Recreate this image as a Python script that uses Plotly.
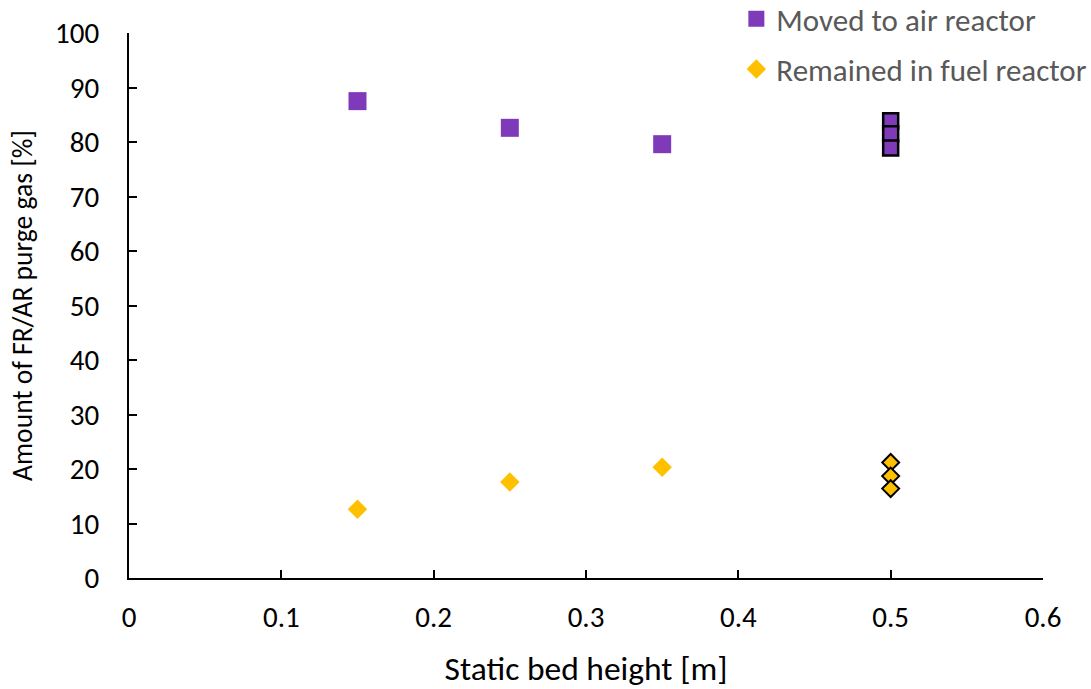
import plotly.graph_objects as go

x_main = [0.15, 0.25, 0.35]
air_main = [87.5, 82.6, 79.6]
fuel_main = [12.6, 17.6, 20.3]
x_rep = [0.5, 0.5, 0.5]
air_rep = [83.9, 81.5, 78.9]
fuel_rep = [21.2, 18.7, 16.4]

purple = "#7F3AB9"
gold = "#FFC000"
font_family = "Carlito, Calibri, 'Open Sans', 'Liberation Sans', sans-serif"

fig = go.Figure()
fig.add_trace(go.Scatter(x=x_main, y=air_main, mode="markers", name="Moved to air reactor",
                         legendgroup="a",
                         marker=dict(symbol="square", size=18, color=purple, line=dict(width=0))))
fig.add_trace(go.Scatter(x=x_main, y=fuel_main, mode="markers", name="Remained in fuel reactor",
                         legendgroup="b",
                         marker=dict(symbol="diamond", size=15, color=gold, line=dict(width=0))))
fig.add_trace(go.Scatter(x=x_rep, y=air_rep, mode="markers", showlegend=False, legendgroup="a",
                         marker=dict(symbol="square", size=15, color=purple, line=dict(width=2.5, color="black"))))
fig.add_trace(go.Scatter(x=x_rep, y=fuel_rep, mode="markers", showlegend=False, legendgroup="b",
                         marker=dict(symbol="diamond", size=13, color=gold, line=dict(width=2, color="black"))))

fig.update_layout(
    width=1091, height=689,
    margin=dict(l=129, r=48, t=33, b=111, autoexpand=False),
    paper_bgcolor="white", plot_bgcolor="white",
    font=dict(family=font_family, size=29, color="black"),
    legend=dict(x=1.054, y=1.075, xanchor="right", yanchor="top",
                font=dict(size=31, color="#595959"), bgcolor="rgba(0,0,0,0)",
                itemsizing="trace", traceorder="grouped", tracegroupgap=7, itemwidth=30),
    xaxis=dict(range=[0, 0.6], tickvals=[0, 0.1, 0.2, 0.3, 0.4, 0.5, 0.6],
               ticktext=["0", "0.1", "0.2", "0.3", "0.4", "0.5", "0.6"],
               showgrid=False, zeroline=False, showline=True, linecolor="black", linewidth=2,
               ticks="inside", ticklen=8, tickwidth=2, tickcolor="black",
               tickfont=dict(size=29), ticklabelstandoff=12,
               title=dict(text="Static bed height [m]", font=dict(size=33.5), standoff=24)),
    yaxis=dict(range=[0, 100], tickvals=list(range(0, 101, 10)),
               showgrid=False, zeroline=False, showline=True, linecolor="black", linewidth=2,
               ticks="inside", ticklen=8, tickwidth=2, tickcolor="black",
               tickfont=dict(size=29), ticklabelstandoff=22,
               title=dict(text="Amount of FR/AR purge gas [%]", font=dict(size=27.6), standoff=14)),
)

fig.write_html("out.html")
